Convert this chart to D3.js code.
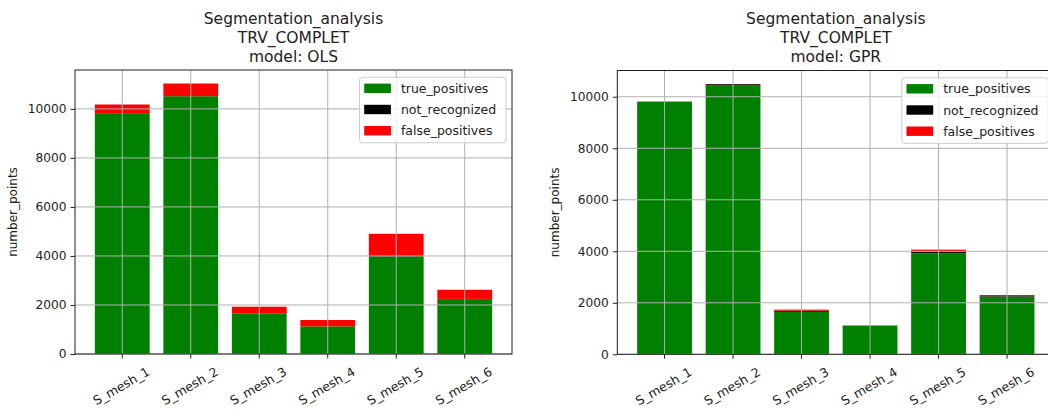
<!DOCTYPE html>
<html>
<head>
<meta charset="utf-8">
<script src="https://cdn.jsdelivr.net/npm/d3@7"></script>
<style>
  html, body { margin: 0; padding: 0; background: #fff; }
  svg { display: block; font-family: "DejaVu Sans", sans-serif; }
</style>
</head>
<body>
<svg id="chart" width="1048" height="411"></svg>
<script>
// ---- data ----
const categories = ["S_mesh_1", "S_mesh_2", "S_mesh_3", "S_mesh_4", "S_mesh_5", "S_mesh_6"];
const seriesNames = ["true_positives", "not_recognized", "false_positives"];
const seriesColors = ["#008000", "#000000", "#ff0000"];
const yTicks = [0, 2000, 4000, 6000, 8000, 10000];

const olsTruePositives = [9795, 10515, 1655, 1125, 3980, 2240];
const olsNotRecognized = [3, 5, 8, 2, 18, 8];
const olsFalsePositives = [381, 515, 266, 259, 906, 373];

const gprTruePositives = [9806, 10450, 1650, 1110, 3920, 2240];
const gprNotRecognized = [5, 40, 45, 5, 75, 20];
const gprFalsePositives = [5, 5, 40, 5, 70, 40];

const titleLines = ["Segmentation_analysis", "TRV_COMPLET"];
const yLabel = "number_points";

const svg = d3.select("#chart");

function drawPanel(cfg) {
  const { x0, x1, y0, y1, model, series } = cfg;
  const g = svg.append("g");

  const rows = categories.map((c, i) => {
    const r = { cat: c };
    seriesNames.forEach((s, k) => r[s] = series[k][i]);
    return r;
  });
  const stacked = d3.stack().keys(seriesNames)(rows);
  const maxTotal = d3.max(stacked[stacked.length - 1], d => d[1]);

  const x = d3.scaleBand().domain(categories).range([x0, x1])
    .paddingInner(0.2).paddingOuter(0.29);
  const y = d3.scaleLinear().domain([0, maxTotal * 1.05]).range([y1, y0]);

  // bars
  stacked.forEach((layer, k) => {
    g.append("g").attr("fill", seriesColors[k])
      .selectAll("rect").data(layer).join("rect")
      .attr("x", d => x(d.data.cat))
      .attr("width", x.bandwidth())
      .attr("y", d => y(d[1]))
      .attr("height", d => Math.max(0, y(d[0]) - y(d[1])));
  });

  // grid (drawn above bars)
  const grid = g.append("g").attr("stroke", "#b0b0b0").attr("stroke-width", 1);
  categories.forEach(c => {
    const cx = x(c) + x.bandwidth() / 2;
    grid.append("line").attr("x1", cx).attr("x2", cx).attr("y1", y0).attr("y2", y1);
  });
  yTicks.forEach(t => {
    grid.append("line").attr("x1", x0).attr("x2", x1).attr("y1", y(t)).attr("y2", y(t));
  });

  // axes
  const yAxis = d3.axisLeft(y).tickValues(yTicks).tickSize(4.5).tickPadding(4).tickFormat(d3.format("d"));
  const ya = g.append("g").attr("transform", `translate(${x0},0)`).call(yAxis);
  ya.select(".domain").remove();
  ya.selectAll("text").attr("font-size", 12.2).attr("fill", "#222").attr("font-family", "DejaVu Sans");
  ya.selectAll("line").attr("stroke", "#222");

  const xAxis = d3.axisBottom(x).tickSize(4.5).tickFormat("");
  const xa = g.append("g").attr("transform", `translate(0,${y1})`).call(xAxis);
  xa.select(".domain").remove();
  xa.selectAll("line").attr("stroke", "#222");

  categories.forEach(c => {
    const cx = x(c) + x.bandwidth() / 2;
    g.append("text").attr("transform", `translate(${cx - 1},${y1 + 32}) rotate(-30)`)
      .attr("text-anchor", "middle").attr("dominant-baseline", "central")
      .attr("font-size", 12.5).attr("fill", "#222").text(c);
  });

  // frame
  g.append("rect").attr("x", x0).attr("y", y0).attr("width", x1 - x0).attr("height", y1 - y0)
    .attr("fill", "none").attr("stroke", "#222").attr("stroke-width", 1);

  // y label
  g.append("text").attr("transform", `translate(${x0 - 62},${(y0 + y1) / 2}) rotate(-90)`)
    .attr("text-anchor", "middle").attr("dominant-baseline", "central")
    .attr("font-size", 12).attr("fill", "#222").text(yLabel);

  // title
  const lines = titleLines.concat(["model: " + model]);
  const cxT = (x0 + x1) / 2;
  lines.forEach((t, i) => {
    g.append("text").attr("x", cxT).attr("y", 23.5 + i * 19.2)
      .attr("text-anchor", "middle").attr("font-size", 15.5).attr("fill", "#222").text(t);
  });

  // legend
  const lw = 146.5, lh = 65.5;
  const lx = x1 - 6 - lw, ly = y0 + 7.3;
  const lg = g.append("g");
  lg.append("rect").attr("x", lx).attr("y", ly).attr("width", lw).attr("height", lh)
    .attr("rx", 3).attr("fill", "#fff").attr("fill-opacity", 0.8)
    .attr("stroke", "#cccccc").attr("stroke-width", 1);
  seriesNames.forEach((s, k) => {
    const ry = ly + 11 + k * 21.2;
    lg.append("rect").attr("x", lx + 4.7).attr("y", ry - 4.7).attr("width", 26.7).attr("height", 9.4)
      .attr("fill", seriesColors[k]);
    lg.append("text").attr("x", lx + 41.4).attr("y", ry).attr("dominant-baseline", "central")
      .attr("font-size", 12.5).attr("fill", "#222").text(s);
  });
}

drawPanel({ x0: 75, x1: 512, y0: 70, y1: 354, model: "OLS",
  series: [olsTruePositives, olsNotRecognized, olsFalsePositives] });
drawPanel({ x0: 617.3, x1: 1054.3, y0: 70.5, y1: 354.3, model: "GPR",
  series: [gprTruePositives, gprNotRecognized, gprFalsePositives] });
</script>
</body>
</html>
